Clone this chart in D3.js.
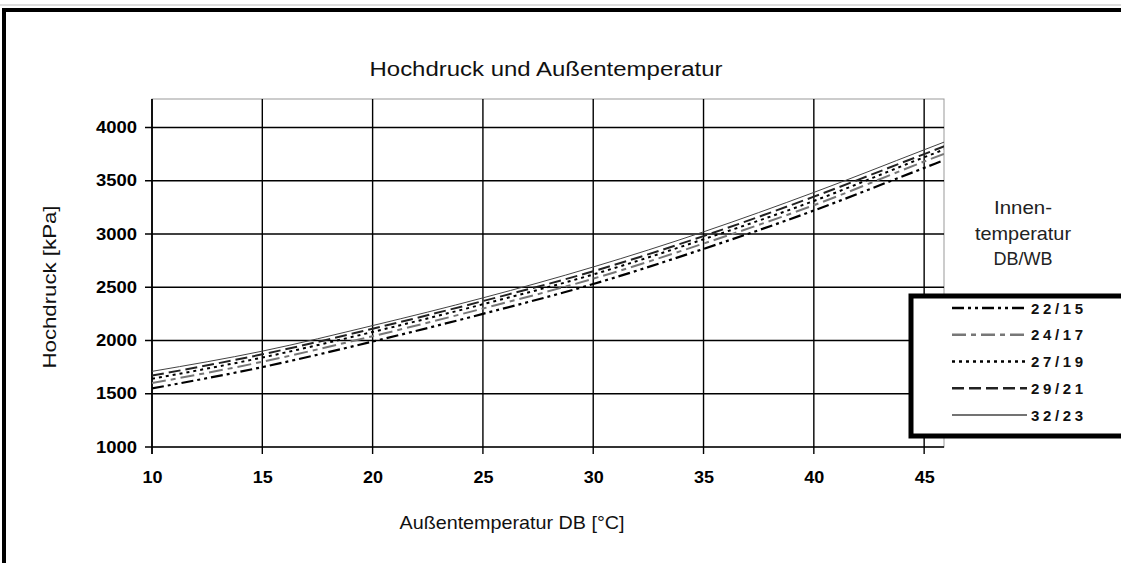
<!DOCTYPE html>
<html><head><meta charset="utf-8">
<script src="https://cdn.jsdelivr.net/npm/d3@7"></script>
<style>body{margin:0;background:#fff}svg{display:block}text{font-family:"Liberation Sans",Arial,sans-serif}</style>
</head><body><svg id="c" width="1121" height="563"></svg>
<script>
const xValues = [10, 15, 20, 25, 30, 35, 40, 45, 46];
const s22_15 = [1550, 1750, 1990, 2250, 2530, 2860, 3220, 3620, 3700];
const s24_17 = [1600, 1800, 2040, 2300, 2580, 2910, 3270, 3680, 3760];
const s27_19 = [1640, 1840, 2080, 2340, 2620, 2950, 3310, 3720, 3800];
const s29_21 = [1670, 1870, 2110, 2370, 2650, 2980, 3350, 3750, 3830];
const s32_23 = [1710, 1900, 2140, 2400, 2690, 3020, 3390, 3790, 3870];
const seriesNames = ["22/15", "24/17", "27/19", "29/21", "32/23"];
const xTicks = [10, 15, 20, 25, 30, 35, 40, 45];
const yTicks = [1000, 1500, 2000, 2500, 3000, 3500, 4000];
const title = "Hochdruck und Außentemperatur";
const xTitle = "Außentemperatur DB [°C]";
const yTitle = "Hochdruck [kPa]";
const legendTitle = ["Innen-", "temperatur", "DB/WB"];

const styles = [
  {color:"#000", width:2.2, dash:"12,4,3,4,3,4"},
  {color:"#777", width:2, dash:"14,5,5,5"},
  {color:"#000", width:2, dash:"3,4"},
  {color:"#222", width:2, dash:"12,5"},
  {color:"#444", width:1, dash:null}
];
const seriesData = [s22_15, s24_17, s27_19, s29_21, s32_23];

const svg = d3.select("#c");
svg.append("rect").attr("x",4).attr("y",10).attr("width",1300).attr("height",700)
  .attr("fill","none").attr("stroke","#000").attr("stroke-width",4);
svg.append("line").attr("x1",0).attr("x2",1121).attr("y1",5).attr("y2",5).attr("stroke","#bbb").attr("stroke-width",1);

const x = d3.scaleLinear().domain([10, 45.9]).range([152, 944]);
const y = d3.scaleLinear().domain([1000, 4267]).range([447, 99]);

svg.append("rect").attr("x",152).attr("y",99).attr("width",944-152).attr("height",447-99)
  .attr("fill","none").attr("stroke","#999").attr("stroke-width",1);

svg.append("g").selectAll("line").data(xTicks).join("line")
  .attr("x1",d=>x(d)).attr("x2",d=>x(d)).attr("y1",99).attr("y2",454)
  .attr("stroke","#000").attr("stroke-width",1.4);
svg.append("g").selectAll("line").data(yTicks).join("line")
  .attr("x1",145).attr("x2",944).attr("y1",d=>y(d)).attr("y2",d=>y(d))
  .attr("stroke","#000").attr("stroke-width",1.4);
svg.append("line").attr("x1",152).attr("x2",152).attr("y1",99).attr("y2",454).attr("stroke","#000").attr("stroke-width",1.4);

const xAxis = svg.append("g").attr("transform","translate(0,447)")
  .call(d3.axisBottom(x).tickValues(xTicks).tickSize(0).tickPadding(25));
xAxis.select(".domain").remove();
xAxis.selectAll("text").attr("font-size",16).attr("font-weight","bold").attr("fill","#000")
  .attr("font-family","Liberation Sans, Arial, sans-serif")
  .attr("textLength",20).attr("lengthAdjust","spacingAndGlyphs");
const yAxis = svg.append("g").attr("transform","translate(152,0)")
  .call(d3.axisLeft(y).tickValues(yTicks).tickSize(0).tickPadding(15).tickFormat(d3.format("d")));
yAxis.select(".domain").remove();
yAxis.selectAll("text").attr("font-size",16).attr("font-weight","bold").attr("fill","#000")
  .attr("font-family","Liberation Sans, Arial, sans-serif")
  .attr("textLength",41).attr("lengthAdjust","spacingAndGlyphs");

const line = d3.line().x((d,i)=>x(xValues[i])).y(d=>y(d)).curve(d3.curveMonotoneX);
svg.append("clipPath").attr("id","pc").append("rect")
  .attr("x",152).attr("y",99).attr("width",792).attr("height",348);
seriesData.forEach((s,i)=>{
  svg.append("path").datum(s).attr("d",line).attr("fill","none")
    .attr("clip-path","url(#pc)")
    .attr("stroke",styles[i].color).attr("stroke-width",styles[i].width)
    .attr("stroke-dasharray",styles[i].dash);
});

svg.append("text").attr("x",546).attr("y",76).attr("text-anchor","middle").attr("font-size",20)
  .attr("fill","#111").attr("textLength",353).attr("lengthAdjust","spacingAndGlyphs").text(title);
svg.append("text").attr("x",512).attr("y",529).attr("text-anchor","middle").attr("font-size",18.5)
  .attr("fill","#111").attr("textLength",225).attr("lengthAdjust","spacingAndGlyphs").text(xTitle);
svg.append("text").attr("transform","translate(56,287) rotate(-90)").attr("text-anchor","middle").attr("font-size",18.5)
  .attr("fill","#111").attr("textLength",163).attr("lengthAdjust","spacingAndGlyphs").text(yTitle);

const lw = [58, 96, 59];
legendTitle.forEach((t,i)=>{
  svg.append("text").attr("x",1023).attr("y",214+i*25.5).attr("text-anchor","middle").attr("font-size",19)
    .attr("fill","#222").attr("textLength",lw[i]).attr("lengthAdjust","spacingAndGlyphs").text(t);
});

svg.append("rect").attr("x",911).attr("y",296).attr("width",300).attr("height",140)
  .attr("fill","#fff").attr("stroke","#000").attr("stroke-width",5);
const ly = d3.scalePoint().domain(seriesNames).range([308, 415]);
seriesNames.forEach((n,i)=>{
  svg.append("line").attr("x1",952).attr("x2",1027).attr("y1",ly(n)).attr("y2",ly(n))
    .attr("stroke",styles[i].color).attr("stroke-width",styles[i].width+0.5)
    .attr("stroke-dasharray",styles[i].dash);
  svg.append("text").attr("x",1031).attr("y",ly(n)+5.5).attr("font-size",15).attr("font-weight","bold")
    .attr("fill","#111").attr("textLength",52).attr("lengthAdjust","spacing").text(n);
});
</script></body></html>
